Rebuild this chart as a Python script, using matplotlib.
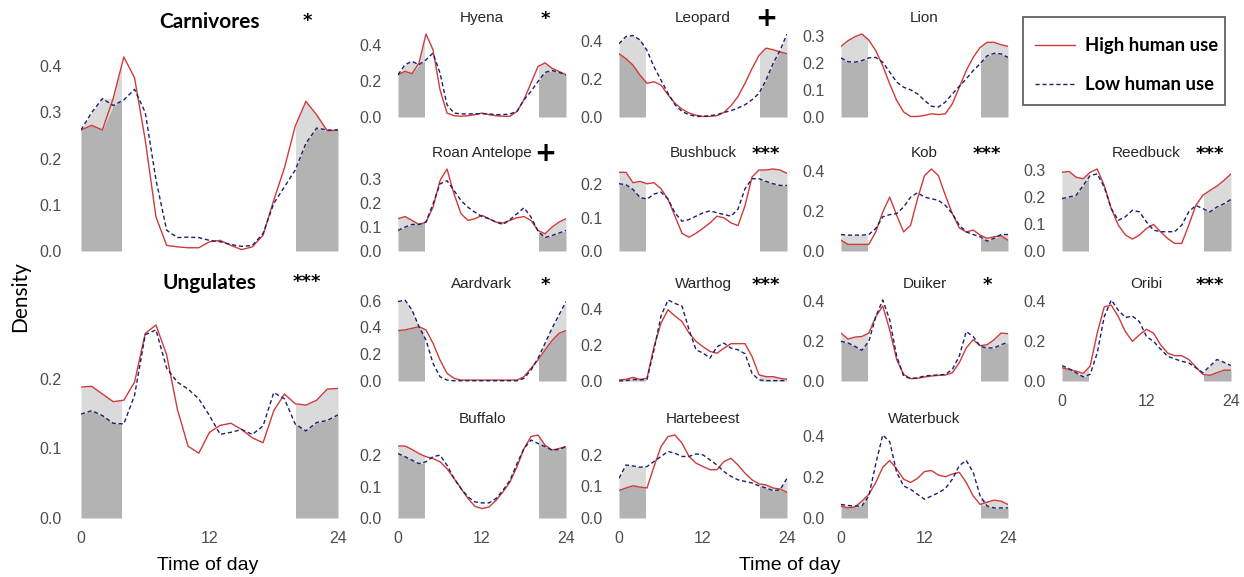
import numpy as np
import matplotlib
matplotlib.use('Agg')
import matplotlib.pyplot as plt
from matplotlib.patches import Rectangle
from matplotlib.lines import Line2D
from matplotlib.ticker import MultipleLocator, FormatStrFormatter

plt.rcParams['font.family'] = ['Liberation Sans', 'DejaVu Sans']

HOURS = list(range(25))  # time of day, hourly
NIGHT = [(0, 3.7), (20.1, 24)]  # shaded night hours

# density, high human use (red) / low human use (blue)
carnivores_high = [0.262, 0.272, 0.262, 0.33, 0.42, 0.375, 0.24, 0.074, 0.012, 0.009, 0.007, 0.007, 0.02,
                   0.023, 0.012, 0.003, 0.009, 0.034, 0.11, 0.18, 0.27, 0.324, 0.295, 0.26, 0.262]
carnivores_low = [0.262, 0.30, 0.33, 0.315, 0.327, 0.35, 0.30, 0.154, 0.045, 0.029, 0.03, 0.029, 0.023,
                  0.02, 0.014, 0.01, 0.012, 0.038, 0.103, 0.139, 0.175, 0.233, 0.266, 0.262, 0.262]
ungulates_high = [0.188, 0.189, 0.178, 0.167, 0.169, 0.195, 0.265, 0.277, 0.234, 0.156, 0.103, 0.093, 0.123,
                  0.133, 0.136, 0.127, 0.115, 0.108, 0.154, 0.178, 0.164, 0.162, 0.169, 0.185, 0.186]
ungulates_low = [0.149, 0.154, 0.147, 0.136, 0.135, 0.176, 0.263, 0.270, 0.215, 0.195, 0.185, 0.171, 0.147,
                 0.12, 0.123, 0.127, 0.12, 0.132, 0.18, 0.171, 0.135, 0.125, 0.137, 0.14, 0.148]
hyena_high = [0.234, 0.253, 0.24, 0.299, 0.46, 0.373, 0.151, 0.022, 0.007, 0.004, 0.007, 0.013, 0.022,
              0.013, 0.007, 0.004, 0.004, 0.031, 0.096, 0.188, 0.28, 0.30, 0.27, 0.253, 0.234]
hyena_low = [0.234, 0.29, 0.308, 0.29, 0.317, 0.354, 0.244, 0.068, 0.022, 0.017, 0.017, 0.018, 0.018,
             0.017, 0.013, 0.013, 0.017, 0.031, 0.096, 0.142, 0.197, 0.247, 0.258, 0.247, 0.234]
leopard_high = [0.331, 0.305, 0.271, 0.219, 0.176, 0.184, 0.167, 0.116, 0.072, 0.041, 0.021, 0.009, 0.003,
                0.003, 0.007, 0.024, 0.059, 0.107, 0.176, 0.253, 0.322, 0.36, 0.352, 0.34, 0.331]
leopard_low = [0.383, 0.421, 0.426, 0.403, 0.348, 0.262, 0.193, 0.124, 0.064, 0.029, 0.012, 0.003, 0.003,
               0.007, 0.012, 0.024, 0.033, 0.047, 0.064, 0.09, 0.124, 0.193, 0.279, 0.348, 0.434]
lion_high = [0.263, 0.284, 0.299, 0.309, 0.286, 0.247, 0.191, 0.123, 0.062, 0.019, 0.002, 0.002, 0.006,
             0.012, 0.009, 0.012, 0.049, 0.111, 0.173, 0.222, 0.259, 0.278, 0.278, 0.269, 0.263]
lion_low = [0.22, 0.206, 0.204, 0.21, 0.22, 0.222, 0.204, 0.167, 0.13, 0.111, 0.101, 0.086, 0.062,
            0.04, 0.037, 0.056, 0.086, 0.114, 0.142, 0.173, 0.198, 0.228, 0.237, 0.235, 0.222]
roan_high = [0.135, 0.144, 0.128, 0.111, 0.121, 0.183, 0.294, 0.343, 0.239, 0.156, 0.128, 0.135, 0.149,
             0.135, 0.121, 0.117, 0.128, 0.139, 0.144, 0.128, 0.086, 0.072, 0.10, 0.121, 0.135]
roan_low = [0.086, 0.10, 0.111, 0.111, 0.121, 0.197, 0.281, 0.294, 0.253, 0.211, 0.183, 0.162, 0.144,
            0.135, 0.121, 0.111, 0.131, 0.156, 0.181, 0.142, 0.083, 0.056, 0.065, 0.075, 0.086]
bushbuck_high = [0.235, 0.235, 0.204, 0.208, 0.201, 0.204, 0.186, 0.155, 0.104, 0.053, 0.041, 0.053, 0.068,
                 0.084, 0.104, 0.099, 0.084, 0.076, 0.135, 0.221, 0.242, 0.242, 0.245, 0.242, 0.232]
bushbuck_low = [0.201, 0.198, 0.184, 0.16, 0.155, 0.17, 0.176, 0.155, 0.114, 0.089, 0.094, 0.104, 0.114,
                0.12, 0.114, 0.109, 0.104, 0.125, 0.186, 0.216, 0.216, 0.208, 0.201, 0.196, 0.196]
kob_high = [0.054, 0.033, 0.033, 0.033, 0.033, 0.095, 0.194, 0.268, 0.178, 0.095, 0.128, 0.26, 0.375,
            0.408, 0.375, 0.277, 0.186, 0.115, 0.095, 0.104, 0.079, 0.063, 0.071, 0.076, 0.054]
kob_low = [0.082, 0.079, 0.079, 0.079, 0.082, 0.112, 0.17, 0.181, 0.186, 0.219, 0.268, 0.29, 0.268,
           0.26, 0.252, 0.227, 0.186, 0.128, 0.095, 0.082, 0.071, 0.049, 0.063, 0.082, 0.082]
reedbuck_high = [0.29, 0.293, 0.272, 0.266, 0.29, 0.302, 0.241, 0.156, 0.095, 0.059, 0.044, 0.059, 0.083,
                 0.098, 0.071, 0.046, 0.028, 0.028, 0.095, 0.168, 0.205, 0.223, 0.239, 0.26, 0.284]
reedbuck_low = [0.193, 0.199, 0.205, 0.241, 0.278, 0.284, 0.235, 0.156, 0.113, 0.126, 0.15, 0.144, 0.107,
                0.077, 0.071, 0.071, 0.071, 0.095, 0.144, 0.168, 0.156, 0.144, 0.162, 0.174, 0.19]
aardvark_high = [0.376, 0.381, 0.393, 0.405, 0.381, 0.281, 0.157, 0.057, 0.02, 0.007, 0.007, 0.007, 0.007,
                 0.007, 0.007, 0.007, 0.007, 0.007, 0.032, 0.095, 0.157, 0.231, 0.301, 0.356, 0.376]
aardvark_low = [0.592, 0.604, 0.53, 0.405, 0.306, 0.132, 0.032, 0.007, 0.002, 0.002, 0.002, 0.002, 0.002,
                0.002, 0.002, 0.002, 0.002, 0.002, 0.02, 0.082, 0.169, 0.281, 0.393, 0.493, 0.592]
warthog_high = [0.006, 0.009, 0.02, 0.009, 0.015, 0.19, 0.32, 0.395, 0.36, 0.33, 0.266, 0.22, 0.19,
                0.164, 0.154, 0.182, 0.207, 0.207, 0.207, 0.136, 0.034, 0.024, 0.024, 0.015, 0.009]
warthog_low = [0.0, 0.002, 0.009, 0.006, 0.009, 0.173, 0.36, 0.449, 0.43, 0.415, 0.285, 0.173, 0.155,
               0.127, 0.19, 0.21, 0.182, 0.173, 0.151, 0.043, 0.006, 0.002, 0.002, 0.002, 0.002]
duiker_high = [0.239, 0.209, 0.219, 0.222, 0.239, 0.321, 0.374, 0.255, 0.107, 0.033, 0.012, 0.013, 0.02,
               0.025, 0.028, 0.03, 0.041, 0.091, 0.165, 0.206, 0.176, 0.181, 0.206, 0.239, 0.236]
duiker_low = [0.198, 0.19, 0.173, 0.153, 0.198, 0.321, 0.404, 0.305, 0.124, 0.025, 0.012, 0.016, 0.025,
              0.028, 0.03, 0.033, 0.058, 0.124, 0.247, 0.222, 0.173, 0.165, 0.165, 0.181, 0.193]
oribi_high = [0.066, 0.057, 0.049, 0.038, 0.074, 0.238, 0.369, 0.377, 0.32, 0.246, 0.197, 0.23, 0.257,
              0.238, 0.18, 0.139, 0.126, 0.126, 0.107, 0.07, 0.033, 0.028, 0.041, 0.054, 0.054]
oribi_low = [0.077, 0.061, 0.041, 0.021, 0.033, 0.139, 0.32, 0.403, 0.352, 0.316, 0.323, 0.295, 0.221,
             0.197, 0.159, 0.123, 0.11, 0.098, 0.09, 0.066, 0.041, 0.074, 0.107, 0.093, 0.077]
buffalo_high = [0.229, 0.229, 0.218, 0.205, 0.195, 0.189, 0.179, 0.157, 0.126, 0.094, 0.062, 0.037, 0.03,
                0.035, 0.056, 0.083, 0.115, 0.163, 0.221, 0.259, 0.264, 0.232, 0.216, 0.221, 0.227]
buffalo_low = [0.205, 0.195, 0.184, 0.173, 0.179, 0.195, 0.2, 0.168, 0.126, 0.094, 0.067, 0.051, 0.048,
               0.048, 0.062, 0.088, 0.12, 0.173, 0.221, 0.248, 0.237, 0.227, 0.216, 0.218, 0.227]
hartebeest_high = [0.087, 0.095, 0.102, 0.098, 0.095, 0.163, 0.226, 0.258, 0.263, 0.237, 0.195, 0.174, 0.163,
                   0.153, 0.153, 0.179, 0.189, 0.168, 0.142, 0.121, 0.108, 0.105, 0.095, 0.092, 0.081]
hartebeest_low = [0.126, 0.168, 0.165, 0.161, 0.163, 0.179, 0.195, 0.211, 0.205, 0.195, 0.195, 0.203, 0.2,
                  0.184, 0.168, 0.147, 0.132, 0.121, 0.116, 0.111, 0.102, 0.095, 0.087, 0.089, 0.126]
waterbuck_high = [0.058, 0.049, 0.054, 0.082, 0.115, 0.173, 0.247, 0.28, 0.239, 0.189, 0.173, 0.193, 0.226,
                  0.231, 0.209, 0.201, 0.214, 0.222, 0.173, 0.107, 0.066, 0.077, 0.087, 0.082, 0.066]
waterbuck_low = [0.066, 0.061, 0.058, 0.058, 0.107, 0.264, 0.404, 0.371, 0.222, 0.156, 0.14, 0.115, 0.091,
                 0.107, 0.123, 0.143, 0.189, 0.255, 0.28, 0.222, 0.107, 0.058, 0.049, 0.049, 0.049]

RED = '#cf3a3a'
BLUE = '#1c1f6b'
DARK = '#b3b3b3'
LIGHT = '#dadada'
CALIBRI = ['Lato', 'DejaVu Sans']

W, H = 1244, 577
fig = plt.figure(figsize=(W / 100, H / 100), dpi=100)


def panel(x0, x24, zero_px, top_px, high, low, step, title, sig, xlabels=False, big=False):
    rng = zero_px - top_px
    bot = zero_px + 0.05 * rng
    top = top_px - 0.05 * rng
    ax = fig.add_axes([x0 / W, 1 - bot / H, (x24 - x0) / W, (bot - top) / H])
    m = max(max(high), max(low))
    ax.set_xlim(0, 24)
    ax.set_ylim(-0.05 * m, 1.05 * m)
    hi = np.maximum(high, low)
    lo = np.minimum(high, low)
    for a, b in NIGHT:
        clip = Rectangle((a, 0), b - a, 2, transform=ax.transData)
        f1 = ax.fill_between(HOURS, 0, lo, color=DARK, lw=0)
        f2 = ax.fill_between(HOURS, lo, hi, color=LIGHT, lw=0)
        f1.set_clip_path(clip)
        f2.set_clip_path(clip)
    ax.plot(HOURS, high, color=RED, lw=1.0)
    ax.plot(HOURS, low, color=BLUE, lw=1.0, dashes=(3, 2))
    for s in ax.spines.values():
        s.set_visible(False)
    ax.yaxis.set_major_locator(MultipleLocator(step))
    ax.yaxis.set_major_formatter(FormatStrFormatter('%.1f'))
    ax.set_xticks([0, 12, 24])
    ax.tick_params(axis='x', length=0, labelsize=11.5, labelcolor='#4d4d4d',
                   pad=2.5 if big else 6.5)
    ax.tick_params(axis='y', length=0, labelsize=11.5, labelcolor='#4d4d4d',
                   pad=13.7 if big else 11.8)
    if not xlabels:
        ax.set_xticklabels([])
    ax.patch.set_alpha(0)
    cx = (x0 + x24) / 2
    if big:
        ty = top_px - (35 if title == 'Carnivores' else 42)
        fig.text(cx / W, 1 - ty / H, title, ha='center', va='center', fontsize=15,
                 fontweight='bold', family=CALIBRI)
        fig.text((x24 - 31) / W, 1 - (ty - 1) / H, sig, ha='center', va='center',
                 fontsize=13, fontweight='bold', family='DejaVu Sans')
    else:
        ty = top_px - 16
        fig.text(cx / W, 1 - ty / H, title, ha='center', va='center', fontsize=11, color='#262626')
        if sig == '+':
            fig.text((x24 - 21) / W, 1 - (ty + 1) / H, sig, ha='center', va='center',
                     fontsize=19, fontweight='heavy', family='DejaVu Sans')
        elif sig:
            fig.text((x24 - 21) / W, 1 - (ty + 1) / H, sig, ha='center', va='center',
                     fontsize=13, fontweight='bold', family='DejaVu Sans')
    return ax


COLS = [(398, 566), (619, 787), (841, 1008), (1062, 1231)]
ROWS = [(117, 34), (251, 169), (381, 300), (518, 435)]

panel(81, 338, 251, 57, carnivores_high, carnivores_low, 0.1, 'Carnivores', '*', big=True)
panel(81, 338, 518, 325, ungulates_high, ungulates_low, 0.1, 'Ungulates', '***', xlabels=True, big=True)

small = [
    (0, 0, hyena_high, hyena_low, 0.2, 'Hyena', '*', False),
    (0, 1, roan_high, roan_low, 0.1, 'Roan Antelope', '+', False),
    (0, 2, aardvark_high, aardvark_low, 0.2, 'Aardvark', '*', False),
    (0, 3, buffalo_high, buffalo_low, 0.1, 'Buffalo', '', True),
    (1, 0, leopard_high, leopard_low, 0.2, 'Leopard', '+', False),
    (1, 1, bushbuck_high, bushbuck_low, 0.1, 'Bushbuck', '***', False),
    (1, 2, warthog_high, warthog_low, 0.2, 'Warthog', '***', False),
    (1, 3, hartebeest_high, hartebeest_low, 0.1, 'Hartebeest', '', True),
    (2, 0, lion_high, lion_low, 0.1, 'Lion', '', False),
    (2, 1, kob_high, kob_low, 0.2, 'Kob', '***', False),
    (2, 2, duiker_high, duiker_low, 0.2, 'Duiker', '*', False),
    (2, 3, waterbuck_high, waterbuck_low, 0.2, 'Waterbuck', '', True),
    (3, 1, reedbuck_high, reedbuck_low, 0.1, 'Reedbuck', '***', False),
    (3, 2, oribi_high, oribi_low, 0.2, 'Oribi', '***', True),
]
for c, r, hi, lo, step, name, sig, xl in small:
    panel(COLS[c][0], COLS[c][1], ROWS[r][0], ROWS[r][1], hi, lo, step, name, sig, xlabels=xl)

fig.text(20 / W, 1 - 297 / H, 'Density', rotation=90, ha='center', va='center',
         fontsize=15, family=CALIBRI)
fig.text(208 / W, 1 - 565 / H, 'Time of day', ha='center', va='center', fontsize=14)
fig.text(790 / W, 1 - 565 / H, 'Time of day', ha='center', va='center', fontsize=14)

# legend box, drawn by hand in pixel positions
fig.add_artist(Rectangle((1023 / W, 1 - 105 / H), 202 / W, 88 / H, transform=fig.transFigure,
                         fill=False, edgecolor='#555555', lw=1.2))
for y, col, dash, lab in [(45, RED, None, 'High human use'), (84, BLUE, (3, 2), 'Low human use')]:
    ln = Line2D([1035 / W, 1075 / W], [1 - y / H, 1 - y / H], transform=fig.transFigure,
                color=col, lw=1.0)
    if dash:
        ln.set_dashes(dash)
    fig.add_artist(ln)
    fig.text(1085 / W, 1 - y / H, lab, ha='left', va='center', fontsize=13.3,
             fontweight='bold', family=CALIBRI)

fig.savefig('out.png', dpi=100)
